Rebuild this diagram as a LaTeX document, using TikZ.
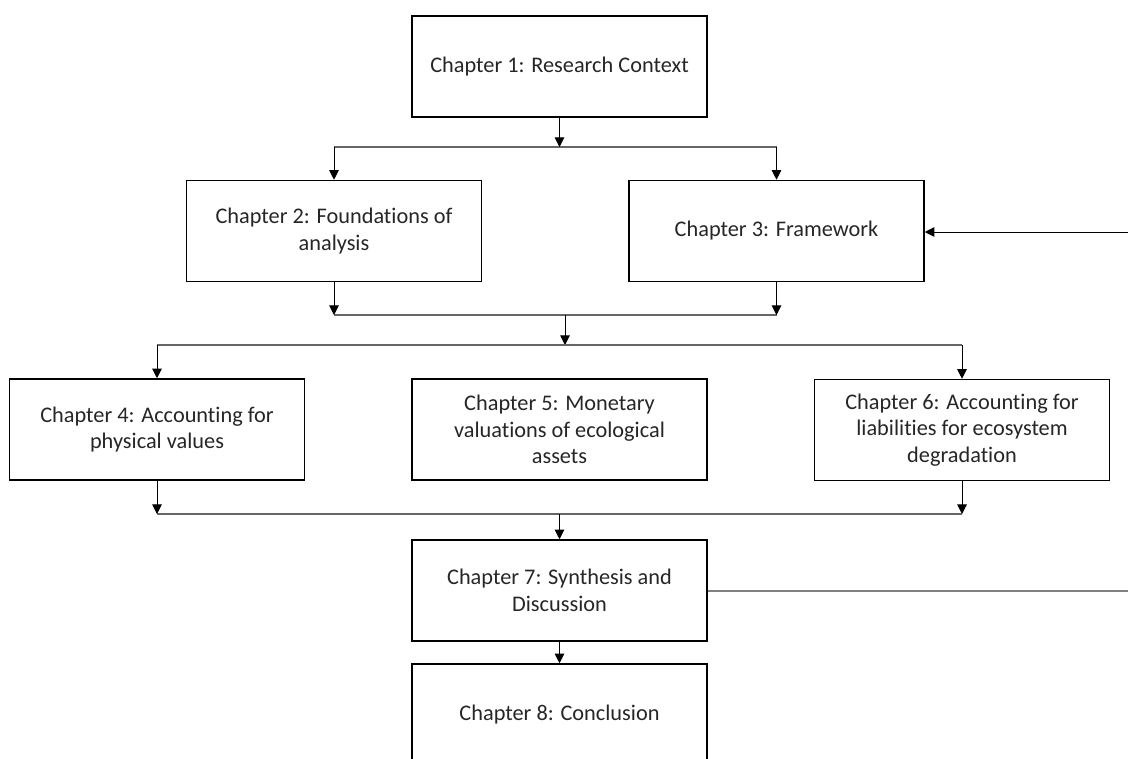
\documentclass[tikz,border=0pt]{standalone}
\usepackage{fontspec}
\setmainfont[Ligatures={NoCommon,NoRare,NoDiscretionary}]{Carlito}
\usetikzlibrary{arrows.meta}
\tikzset{
  chapbox/.style={draw=black, line width=0.9pt, minimum width=5.9cm, minimum height=2.02cm,
    align=center, font=\fontsize{12.7}{15.2}\selectfont, text=black!85, inner sep=2pt},
  flow/.style={draw=black, line width=0.55pt, -{Triangle[width=5.5pt,length=5.5pt]}},
  bus/.style={draw=black!60, line width=0.7pt}
}
\begin{document}
\begin{tikzpicture}[x=0.02cm, y=-0.02cm]
   \useasboundingbox (0,0) rectangle (1128,758);
   \clip (0,0) rectangle (1128,758);
   % Draw the chapters
   \node[chapbox] (ch1) at (559.5, 66.5) {Chapter 1: Research Context};
   \node[chapbox] (ch2) at (334, 231) {Chapter 2: Foundations of\\analysis};
   \node[chapbox] (ch3) at (776.5, 231) {Chapter 3: Framework};
   \node[chapbox] (ch4) at (157, 429.5) {Chapter 4: Accounting for\\physical values};
   \node[chapbox] (ch5) at (559.5, 429.5) {Chapter 5: Monetary\\valuations of ecological\\assets};
   \node[chapbox] (ch6) at (962, 430) {Chapter 6: Accounting for\\liabilities for ecosystem\\degradation};
   \node[chapbox] (ch7) at (559.5, 590.5) {Chapter 7: Synthesis and\\Discussion};
   \node[chapbox] (ch8) at (559.5, 714.5) {Chapter 8: Conclusion};
   % Junction points
   \coordinate (busA) at (559.5, 147);
   \coordinate (busBl) at (334, 315);
   \coordinate (busBr) at (776.5, 315);
   \coordinate (busBm) at (565, 315);
   \coordinate (busC) at (565, 345);
   \coordinate (busDl) at (157, 514);
   \coordinate (busDr) at (962, 514);
   \coordinate (busDm) at (559.5, 514);
   \coordinate (edgeIn) at (1128, 232);
   \coordinate (edgeOut) at (1128, 591);
   % Draw the connectors
   \draw[bus] (busA -| ch2) -- (busA -| ch3);
   \draw[flow] (ch1) -- (busA);
   \draw[flow] (busA -| ch2) -- (ch2);
   \draw[flow] (busA -| ch3) -- (ch3);
   \draw[bus] (busBl) -- (busBr);
   \draw[flow] (ch2) -- (busBl);
   \draw[flow] (ch3) -- (busBr);
   \draw[flow] (busBm) -- (busC);
   \draw[bus] (busC -| ch4) -- (busC -| ch6);
   \draw[flow] (busC -| ch4) -- (ch4);
   \draw[flow] (busC -| ch6) -- (ch6);
   \draw[bus] (busDl) -- (busDr);
   \draw[flow] (ch4) -- (busDl);
   \draw[flow] (ch6) -- (busDr);
   \draw[flow] (busDm) -- (ch7);
   \draw[flow] (ch7) -- (ch8);
   \draw[flow] (edgeIn) -- (ch3.east |- edgeIn);
   \draw[bus, draw=black!50] (ch7.east |- edgeOut) -- (edgeOut);
\end{tikzpicture}
\end{document}
